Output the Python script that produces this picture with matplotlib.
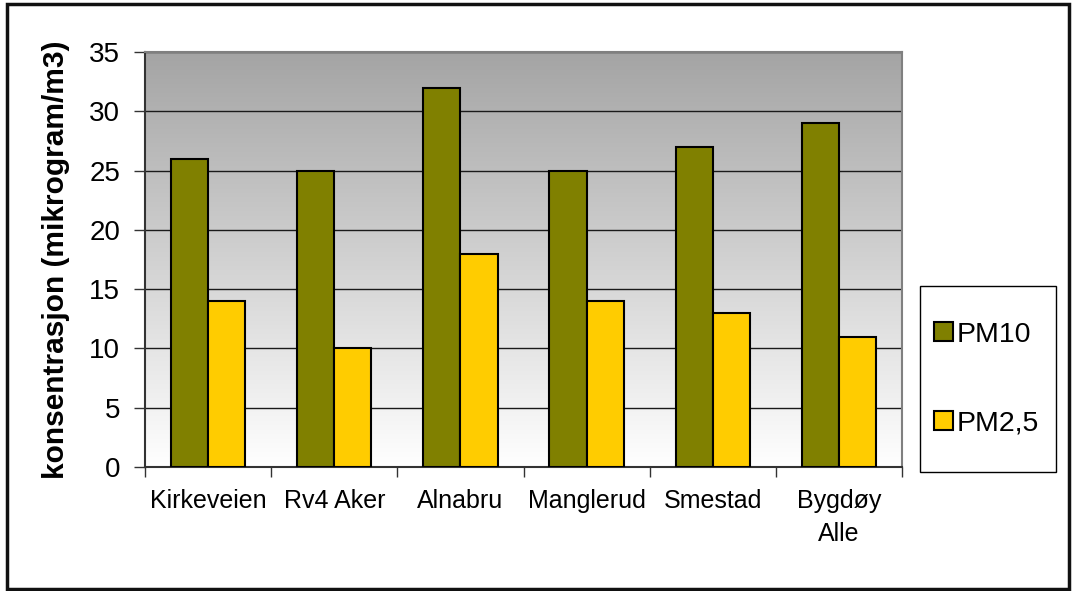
import numpy as np
import matplotlib
matplotlib.use("Agg")
import matplotlib.pyplot as plt
from matplotlib.patches import Rectangle

plt.rcParams["font.family"] = ["Liberation Sans", "DejaVu Sans"]

steder = ["Kirkeveien", "Rv4 Aker", "Alnabru", "Manglerud", "Smestad", "Bygdøy\nAlle"]
pm10 = [26, 25, 32, 25, 27, 29]
pm25 = [14, 10, 18, 14, 13, 11]

fig = plt.figure(figsize=(10.72, 5.91), dpi=100)
ax = fig.add_axes([0.1353, 0.2098, 0.7061, 0.7022])

# bakgrunn med gradient (grå oppe, hvit nede)
grad = np.linspace(1.0, 0.0, 256).reshape(-1, 1)
ax.imshow(grad, cmap=matplotlib.colors.LinearSegmentedColormap.from_list(
    "g", ["#ffffff", "#a4a4a4"]), aspect="auto",
    extent=[0, 1, 0, 1], transform=ax.transAxes, zorder=0)

x = np.arange(len(steder))
w = 0.294
ax.bar(x - w / 2, pm10, w, color="#808000", edgecolor="black", linewidth=1.5,
       label="PM10", zorder=3)
ax.bar(x + w / 2, pm25, w, color="#ffcc00", edgecolor="black", linewidth=1.5,
       label="PM2,5", zorder=3)

ax.set_xlim(-0.5, len(steder) - 0.5)
ax.set_ylim(0, 35)
ax.set_yticks(range(0, 36, 5))
ax.yaxis.grid(True, color="#1a1a1a", linewidth=1)
ax.set_axisbelow(True)
for gl in ax.get_ygridlines():
    gl.set_zorder(1)

ax.set_xticks(x)
ax.set_xticklabels(steder, fontsize=18, linespacing=1.45)
ax.set_xticks(np.arange(-0.5, len(steder)), minor=True)
ax.tick_params(axis="x", which="major", length=0, pad=16)
ax.tick_params(axis="x", which="minor", length=7, width=1, color="#333333")
ax.tick_params(axis="y", labelsize=20, length=8, width=1, color="#333333", pad=10)

ax.set_ylabel("konsentrasjon (mikrogram/m3)", fontsize=21.5, fontweight="bold",
              labelpad=14)

for s in ["top", "right"]:
    ax.spines[s].set_color("#808080")
    ax.spines[s].set_linewidth(1.5)
for s in ["left", "bottom"]:
    ax.spines[s].set_color("#333333")
    ax.spines[s].set_linewidth(1.5)

# legende med egen ramme
fig.patches.append(Rectangle((920 / 1072, 119 / 591), 136 / 1072, 186 / 591,
                             transform=fig.transFigure, fill=False,
                             edgecolor="black", linewidth=1))
leg = fig.legend(loc="center left", bbox_to_anchor=(934 / 1072, 0.2014, 0.12, 0.3147),
                 fontsize=20.5, frameon=False, handlelength=0.65, handleheight=0.65,
                 handletextpad=0.15, labelspacing=2.2, borderpad=0,
                 borderaxespad=0)

# ytre ramme
fig.patches.append(Rectangle((7 / 1072, 2 / 591), 1062 / 1072, 585 / 591,
                             transform=fig.transFigure, fill=False,
                             edgecolor="#111111", linewidth=2.5))

fig.savefig("out.png", dpi=100)
